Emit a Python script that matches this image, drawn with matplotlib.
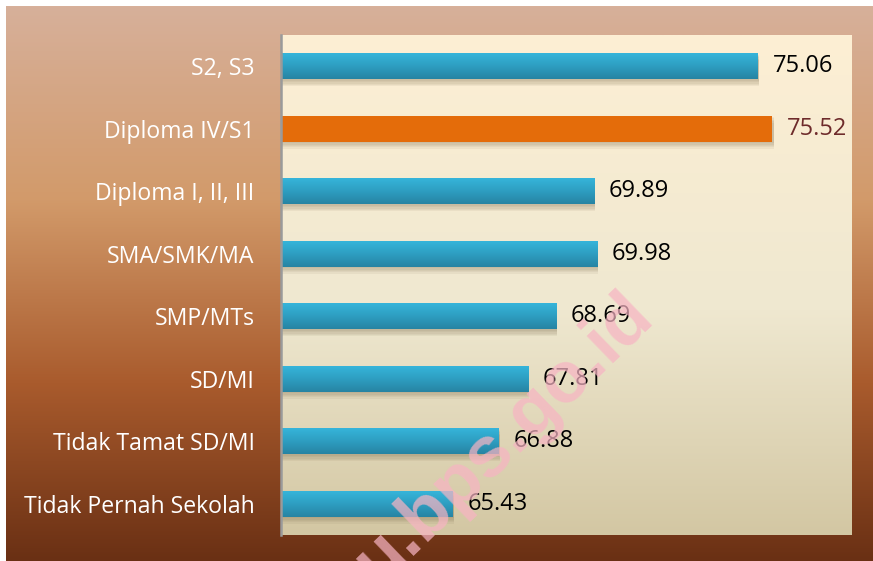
import numpy as np
import matplotlib
matplotlib.use("Agg")
import matplotlib.pyplot as plt
from matplotlib.colors import LinearSegmentedColormap
import matplotlib.patheffects as pe

categories = ["S2, S3", "Diploma IV/S1", "Diploma I, II, III", "SMA/SMK/MA",
              "SMP/MTs", "SD/MI", "Tidak Tamat SD/MI", "Tidak Pernah Sekolah"]
values = [75.06, 75.52, 69.89, 69.98, 68.69, 67.81, 66.88, 65.43]
highlight = "Diploma IV/S1"
xmin, xmax = 60, 78
watermark = "u.bps.go.id"

W, H = 873, 561
fig = plt.figure(figsize=(W / 100, H / 100), dpi=100)
fig.patch.set_facecolor("white")

# outer brown gradient background
bg = fig.add_axes([6 / W, 0, 1 - 6 / W, 1 - 6 / H], zorder=-10)
bg_cmap = LinearSegmentedColormap.from_list(
    "bg", [(0.0, "#D7B09A"), (0.35, "#D29A6A"), (0.68, "#A95B2D"), (1.0, "#6A3014")])
bg.imshow(np.linspace(0, 1, 256).reshape(-1, 1), aspect="auto", cmap=bg_cmap,
          extent=[0, 1, 0, 1], origin="upper")
bg.set_axis_off()

ax = fig.add_axes([281 / W, (H - 535) / H, (851 - 281) / W, (535 - 35) / H])
ax.set_xlim(xmin, xmax)
n = len(categories)
ax.set_ylim(n - 0.5, -0.5)

# plot-area gradient
pa_cmap = LinearSegmentedColormap.from_list(
    "pa", [(0.0, "#FDEFD4"), (0.55, "#EFE8D0"), (1.0, "#D3C7A3")])
ax.imshow(np.linspace(0, 1, 256).reshape(-1, 1), aspect="auto", cmap=pa_cmap,
          extent=[xmin, xmax, n - 0.5, -0.5], origin="upper", zorder=0)

ypos = np.arange(n)
colors = ["#E46C0A" if c == highlight else "#33B2D6" for c in categories]
shadow = [pe.SimplePatchShadow(offset=(0.8, -k), shadow_rgbFace="#6b5a3a", alpha=0.07)
          for k in (1, 2, 3, 4, 5)]
bars = ax.barh(ypos, np.array(values) - xmin, left=xmin, height=0.42,
               color=colors, zorder=3, path_effects=shadow + [pe.Normal()])

bar_cmap = LinearSegmentedColormap.from_list("bar", ["#36B6DC", "#2E9FC2", "#2784A3"])
for b, c in zip(bars, categories):
    if c == highlight:
        continue
    x0, y0 = b.get_x(), b.get_y()
    w, h = b.get_width(), b.get_height()
    im = ax.imshow(np.linspace(0, 1, 64).reshape(-1, 1), aspect="auto", cmap=bar_cmap,
                   extent=[x0, x0 + w, y0 + h, y0], origin="upper", zorder=4)
    im.set_clip_path(b)

for y, v, c in zip(ypos, values, categories):
    col = "#6E2B2B" if c == highlight else "black"
    ax.annotate(f"{v:.2f}", xy=(v, y), xytext=(10.5, 0), textcoords="offset points",
                ha="left", va="center", fontsize=17, color=col,
                family="Open Sans", zorder=6)

ax.set_yticks(ypos)
ax.set_yticklabels(categories, color="white", fontsize=16.6, family="Open Sans")
ax.tick_params(axis="y", length=0, pad=19)
ax.set_xticks([])
for s in ["top", "right", "bottom"]:
    ax.spines[s].set_visible(False)
ax.spines["left"].set_color("#9A9A9A")
ax.spines["left"].set_linewidth(1.8)
ax.spines["left"].set_zorder(7)

# watermark
fig.text(655 / W, (H - 318) / H, watermark, rotation=44,
         rotation_mode="anchor", ha="right", va="baseline", fontsize=52,
         fontweight="bold", color=(247 / 255, 180 / 255, 195 / 255), alpha=0.72,
         family="Liberation Sans", zorder=20)

fig.savefig("out.png", dpi=100, facecolor=fig.get_facecolor())
